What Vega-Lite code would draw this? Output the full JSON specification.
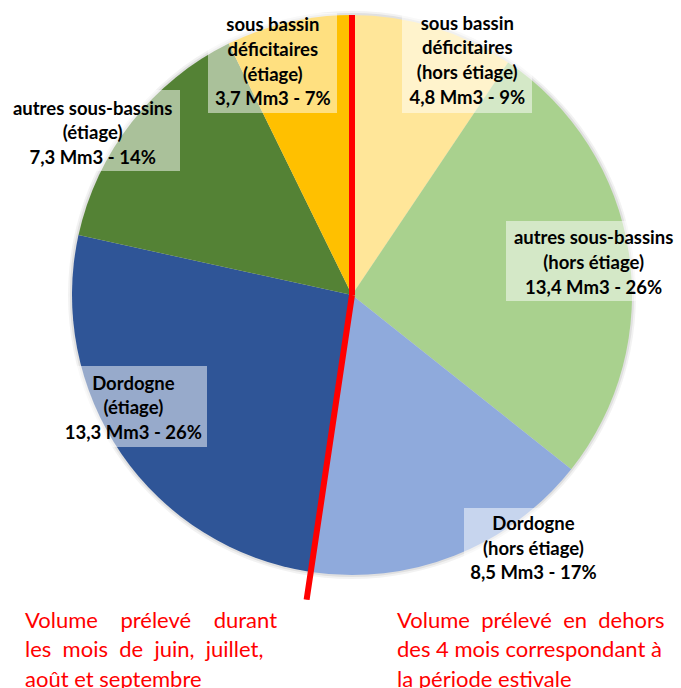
{
  "$schema": "https://vega.github.io/schema/vega-lite/v6.json",
  "autosize": {"type": "none"},
  "padding": {"left": 24, "top": 0, "right": 1, "bottom": 98},
  "width": 656,
  "height": 590,
  "background": "white",
  "config": {"view": {"stroke": null}, "font": "Lato"},
  "data": {"values": [
    {"i": 1, "k": "A", "v": 4.8, "lab": "sous bassin|déficitaires|(hors étiage)|4,8 Mm3 - 9%"},
    {"i": 2, "k": "B", "v": 13.4, "lab": "autres sous-bassins|(hors étiage)|13,4 Mm3 - 26%"},
    {"i": 3, "k": "C", "v": 8.5, "lab": "Dordogne|(hors étiage)|8,5 Mm3 - 17%"},
    {"i": 4, "k": "D", "v": 13.3, "lab": "Dordogne|(étiage)|13,3 Mm3 - 26%"},
    {"i": 5, "k": "E", "v": 7.3, "lab": "autres sous-bassins|(étiage)|7,3 Mm3 - 14%"},
    {"i": 6, "k": "F", "v": 3.7, "lab": "sous bassin|déficitaires|(étiage)|3,7 Mm3 - 7%"}
  ]},
  "layer": [
    {
      "data": {"values": [{"r": "shadow"}]},
      "mark": {"type": "arc", "outerRadius": 284, "fill": "black", "opacity": 0.05},
      "encoding": {}
    },
    {
      "data": {"values": [{"r": "shadow"}]},
      "mark": {"type": "arc", "outerRadius": 282, "fill": "black", "opacity": 0.07},
      "encoding": {}
    },
    {
      "mark": {"type": "arc", "outerRadius": 280},
      "encoding": {
        "theta": {"field": "v", "type": "quantitative", "stack": true},
        "order": {"field": "i", "type": "quantitative"},
        "color": {"field": "k", "type": "nominal", "legend": null,
          "scale": {"domain": ["A", "B", "C", "D", "E", "F"], "range": ["#FFE699", "#A9D18E", "#8FAADC", "#2F5597", "#548235", "#FFC000"]}}
      }
    },
    {
      "mark": {"type": "point", "filled": true, "fill": "white", "strokeWidth": 0, "size": 4},
      "encoding": {
        "shape": {"field": "k", "type": "nominal", "legend": null,
          "scale": {"domain": ["A", "B", "C", "D", "E", "F"], "range": [
            "M50,-282H180V-182H50Z",
            "M154,-74H330V6H154Z",
            "M112,213H250V293H112Z",
            "M-293,71H-145V152H-293Z",
            "M-346,-205H-172V-124H-346Z",
            "M-144,-282H-15V-182H-144Z"]}},
        "opacity": {"field": "k", "type": "nominal", "legend": null,
          "scale": {"domain": ["A", "B", "C", "D", "E", "F"], "range": [0.5, 0.5, 0.55, 0.58, 0.55, 0.55]}}
      }
    },
    {
      "data": {"values": [{"t": 0}]},
      "mark": {"type": "arc", "outerRadius": 280, "fill": null, "stroke": "#FF0000", "strokeWidth": 6, "strokeCap": "butt", "strokeJoin": "bevel"},
      "encoding": {"theta": {"field": "t", "type": "quantitative", "stack": null}, "theta2": {"field": "t"}}
    },
    {
      "data": {"values": [{"t": 26.7}]},
      "mark": {"type": "arc", "outerRadius": 308, "fill": null, "stroke": "#FF0000", "strokeWidth": 6, "strokeCap": "butt", "strokeJoin": "bevel"},
      "encoding": {"theta": {"field": "t", "type": "quantitative", "stack": null}, "theta2": {"field": "t"}}
    },
    {
      "encoding": {
        "theta": {"field": "v", "type": "quantitative", "stack": true},
        "order": {"field": "i", "type": "quantitative"},
        "detail": {"field": "k"}
      },
      "layer": [
        {
          "mark": {"type": "text", "radius": 200, "lineBreak": "|", "fontWeight": "bold", "fontSize": 18.5, "lineHeight": 24.7, "color": "black", "dx": 57, "dy": -80},
          "encoding": {"text": {"condition": {"test": "datum.k==='A'", "field": "lab"}, "value": ""}}
        },
        {
          "mark": {"type": "text", "radius": 200, "lineBreak": "|", "fontWeight": "bold", "fontSize": 18.5, "lineHeight": 24.7, "color": "black", "dx": 44, "dy": -26},
          "encoding": {"text": {"condition": {"test": "datum.k==='B'", "field": "lab"}, "value": ""}}
        },
        {
          "mark": {"type": "text", "radius": 200, "lineBreak": "|", "fontWeight": "bold", "fontSize": 18.5, "lineHeight": 24.7, "color": "black", "dx": 108, "dy": 43},
          "encoding": {"text": {"condition": {"test": "datum.k==='C'", "field": "lab"}, "value": ""}}
        },
        {
          "mark": {"type": "text", "radius": 200, "lineBreak": "|", "fontWeight": "bold", "fontSize": 18.5, "lineHeight": 24.7, "color": "black", "dx": -54, "dy": -25},
          "encoding": {"text": {"condition": {"test": "datum.k==='D'", "field": "lab"}, "value": ""}}
        },
        {
          "mark": {"type": "text", "radius": 200, "lineBreak": "|", "fontWeight": "bold", "fontSize": 18.5, "lineHeight": 24.7, "color": "black", "dx": -102, "dy": -63},
          "encoding": {"text": {"condition": {"test": "datum.k==='E'", "field": "lab"}, "value": ""}}
        },
        {
          "mark": {"type": "text", "radius": 200, "lineBreak": "|", "fontWeight": "bold", "fontSize": 18.5, "lineHeight": 24.7, "color": "black", "dx": -34, "dy": -75},
          "encoding": {"text": {"condition": {"test": "datum.k==='F'", "field": "lab"}, "value": ""}}
        }
      ]
    },
    {
      "data": {"values": [
        {"side": "Volume\u00a0\u00a0\u00a0\u00a0prélevé\u00a0\u00a0\u00a0\u00a0durant|les\u00a0\u00a0mois\u00a0\u00a0de\u00a0\u00a0juin,\u00a0\u00a0juillet,|août et septembre"},
        {"side": "Volume\u00a0\u00a0prélevé\u00a0\u00a0en\u00a0\u00a0dehors|des 4 mois correspondant à|la période estivale"}
      ]},
      "mark": {"type": "text", "text": "", "opacity": 0},
      "encoding": {
        "x": {"field": "side", "type": "nominal",
          "scale": {"type": "band", "paddingInner": 0.242, "paddingOuter": 0.0027},
          "sort": null,
          "axis": {"orient": "bottom", "title": null, "domain": false, "ticks": false, "grid": false,
            "labelAngle": 0, "labelAlign": "left", "labelBaseline": "top", "labelOffset": -141,
            "labelFont": "Lato", "labelFontSize": 22, "labelColor": "#FF0000", "labelLineHeight": 29.5,
            "labelPadding": 20, "labelLimit": 500, "labelOverlap": false, "labelFlush": false,
            "labelExpr": "split(datum.value, '|')"}}
      }
    }
  ]
}
